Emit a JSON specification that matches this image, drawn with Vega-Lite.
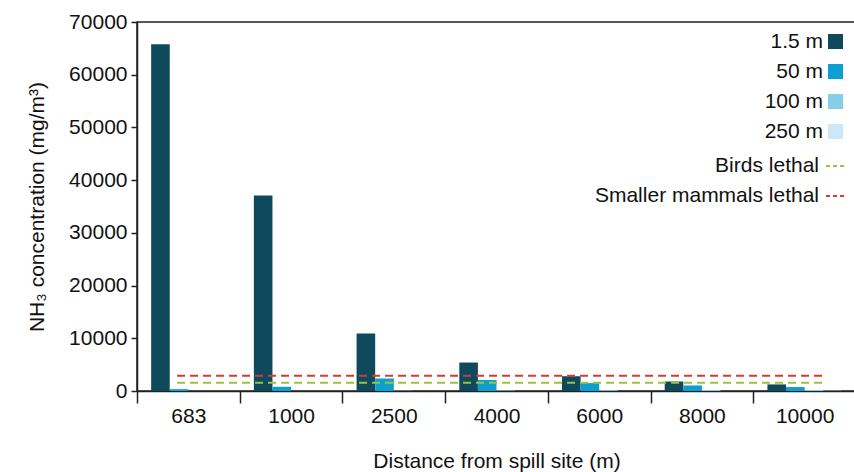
{
  "$schema": "https://vega.github.io/schema/vega-lite/v6.json",
  "autosize": {"type": "none"},
  "padding": {"left": 137, "top": 22, "right": 0, "bottom": 81},
  "width": 719,
  "height": 369,
  "config": {
    "font": "Liberation Sans",
    "view": {"stroke": "#222", "strokeWidth": 1.5},
    "axis": {"domainColor": "#222", "tickColor": "#222", "domainWidth": 1.5, "tickWidth": 1.5, "labelColor": "#111", "titleColor": "#111", "labelFontSize": 21, "titleFontSize": 21, "titleFontWeight": "normal", "grid": false},
    "legend": {"labelFontSize": 21, "labelColor": "#111", "labelAlign": "right", "padding": 0, "labelLimit": 400}
  },
  "datasets": {
    "bars": [
      {"distance": "683", "height": "1.5 m", "value": 65800},
      {"distance": "683", "height": "50 m", "value": 350},
      {"distance": "683", "height": "100 m", "value": 0},
      {"distance": "683", "height": "250 m", "value": 0},
      {"distance": "1000", "height": "1.5 m", "value": 37100},
      {"distance": "1000", "height": "50 m", "value": 800},
      {"distance": "1000", "height": "100 m", "value": 0},
      {"distance": "1000", "height": "250 m", "value": 0},
      {"distance": "2500", "height": "1.5 m", "value": 10900},
      {"distance": "2500", "height": "50 m", "value": 2350},
      {"distance": "2500", "height": "100 m", "value": 50},
      {"distance": "2500", "height": "250 m", "value": 0},
      {"distance": "4000", "height": "1.5 m", "value": 5400},
      {"distance": "4000", "height": "50 m", "value": 2100},
      {"distance": "4000", "height": "100 m", "value": 100},
      {"distance": "4000", "height": "250 m", "value": 0},
      {"distance": "6000", "height": "1.5 m", "value": 2800},
      {"distance": "6000", "height": "50 m", "value": 1500},
      {"distance": "6000", "height": "100 m", "value": 150},
      {"distance": "6000", "height": "250 m", "value": 0},
      {"distance": "8000", "height": "1.5 m", "value": 1800},
      {"distance": "8000", "height": "50 m", "value": 1050},
      {"distance": "8000", "height": "100 m", "value": 200},
      {"distance": "8000", "height": "250 m", "value": 0},
      {"distance": "10000", "height": "1.5 m", "value": 1250},
      {"distance": "10000", "height": "50 m", "value": 750},
      {"distance": "10000", "height": "100 m", "value": 200},
      {"distance": "10000", "height": "250 m", "value": 50}
    ],
    "limits": [
      {"name": "Birds lethal", "value": 1550, "start": "683", "end": "10000"},
      {"name": "Smaller mammals lethal", "value": 2900, "start": "683", "end": "10000"}
    ]
  },
  "layer": [
    {
      "data": {"name": "bars"},
      "mark": {"type": "bar"},
      "encoding": {
        "x": {
          "field": "distance", "type": "nominal",
          "scale": {"domain": ["683", "1000", "2500", "4000", "6000", "8000", "10000"], "paddingInner": 0, "paddingOuter": 0},
          "axis": {"title": "Distance from spill site (m)", "labelAngle": 0, "tickBand": "extent", "tickSize": 12, "labelPadding": 2, "titlePadding": 24}
        },
        "xOffset": {
          "field": "height", "type": "nominal",
          "scale": {"domain": ["1.5 m", "50 m", "100 m", "250 m"], "paddingInner": 0, "paddingOuter": 0.76}
        },
        "y": {
          "field": "value", "type": "quantitative",
          "scale": {"domain": [0, 70000], "nice": false},
          "axis": {"title": "NH₃ concentration (mg/m³)", "values": [0, 10000, 20000, 30000, 40000, 50000, 60000, 70000], "format": "d", "tickSize": 6, "labelPadding": 4, "titlePadding": 21}
        },
        "color": {
          "field": "height", "type": "nominal",
          "scale": {"domain": ["1.5 m", "50 m", "100 m", "250 m"], "range": ["#0f4a5c", "#0ba0d0", "#88cde8", "#cce8f8"]},
          "legend": {"title": null, "orient": "none", "legendX": 688, "legendY": 9, "symbolType": "square", "symbolSize": 225, "symbolStrokeWidth": 0, "labelOffset": -23, "rowPadding": 8}
        }
      }
    },
    {
      "data": {"name": "limits"},
      "mark": {"type": "rule", "strokeDash": [8, 5], "strokeWidth": 2},
      "encoding": {
        "x": {"field": "start", "type": "nominal", "bandPosition": 0.39},
        "x2": {"field": "end", "bandPosition": 0.68},
        "y": {"field": "value", "type": "quantitative"},
        "stroke": {
          "field": "name", "type": "nominal",
          "scale": {"domain": ["Birds lethal", "Smaller mammals lethal"], "range": ["#9ac440", "#c8403c"]},
          "legend": {"title": null, "orient": "none", "legendX": 688, "legendY": 133, "symbolType": "stroke", "symbolSize": 400, "symbolStrokeWidth": 2, "symbolDash": [4, 3], "labelOffset": -28, "rowPadding": 9}
        }
      }
    }
  ]
}
